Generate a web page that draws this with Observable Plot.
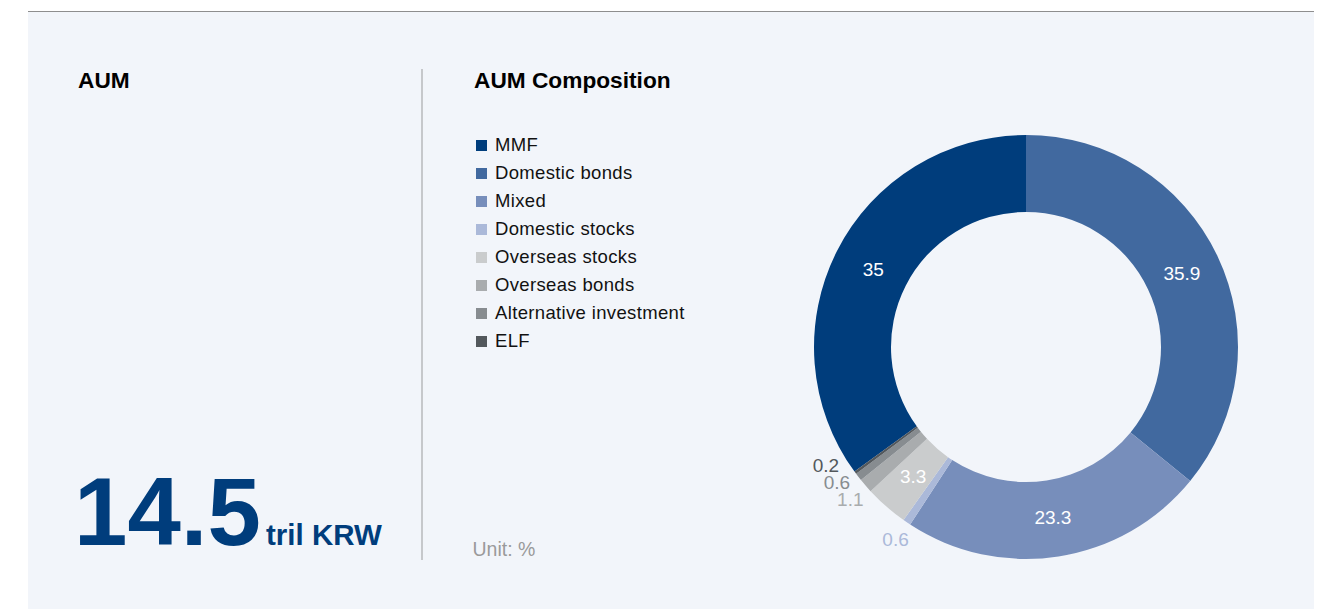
<!DOCTYPE html>
<html>
<head>
<meta charset="utf-8">
<script src="https://cdn.jsdelivr.net/npm/d3@7"></script>
<script src="https://cdn.jsdelivr.net/npm/@observablehq/plot@0.6"></script>
<style>
  html, body { margin: 0; padding: 0; background: #ffffff; }
  body { width: 1329px; height: 609px; position: relative; overflow: hidden;
         font-family: "Liberation Sans", Arial, Helvetica, sans-serif; }
  .abs { position: absolute; white-space: nowrap; }
  #panel { left: 28px; top: 11px; width: 1286px; height: 598px; background: #f2f5fa; border-top: 1px solid #8e8e8e; box-sizing: border-box; }
  #divider { left: 421px; top: 69px; width: 2px; height: 491px; background: #c6c8cb; }
  .legend-row { position: absolute; left: 476px; height: 28px; display: flex; align-items: center; line-height: 28px; font-size: 18.5px; letter-spacing: 0.35px; color: #111; }
  .legend-row .sw { width: 11px; height: 11px; margin-right: 8px; flex: none; }
  #chart { left: 776px; top: 97px; width: 500px; height: 500px; }
</style>
</head>
<body>
<div id="panel" class="abs"></div>
<div id="divider" class="abs"></div>
<div id="legend"></div>
<div id="chart" class="abs"></div>
<script>
// ---- data ----
const categories = ["MMF", "Domestic bonds", "Mixed", "Domestic stocks", "Overseas stocks", "Overseas bonds", "Alternative investment", "ELF"];
const values = [35, 35.9, 23.3, 0.6, 3.3, 1.1, 0.6, 0.2];
const colors = ["#003d7c", "#41699f", "#778ebb", "#abb9d9", "#cacccd", "#a9acae", "#878c90", "#53585c"];
const leftTitle = "AUM";
const rightTitle = "AUM Composition";
const aumValue = "14.5";
const aumUnit = "tril KRW";
const unitNote = "Unit: %";

// ---- static texts ----
function addText(txt, left, baseline, size, weight, color) {
  const d = document.createElement("div");
  d.className = "abs";
  d.textContent = txt;
  d.style.left = left + "px";
  d.style.top = (baseline - 0.8465 * size) + "px";
  d.style.fontSize = size + "px";
  d.style.lineHeight = size + "px";
  d.style.fontWeight = weight;
  d.style.color = color;
  document.body.appendChild(d);
  return d;
}
addText(leftTitle, 78, 88, 22.7, "bold", "#000");
addText(rightTitle, 474, 88, 22.7, "bold", "#000");
addText(aumValue, 74, 545, 96, "bold", "#003d7c");
addText(aumUnit, 266, 545, 29.5, "bold", "#003d7c");
addText(unitNote, 472.5, 557, 19.5, "normal", "#9a9a9a");

// ---- legend ----
const legend = document.getElementById("legend");
categories.forEach((c, i) => {
  const row = document.createElement("div");
  row.className = "legend-row";
  row.style.top = (131 + 28 * i) + "px";
  const sw = document.createElement("span");
  sw.className = "sw";
  sw.style.background = colors[i];
  const lab = document.createElement("span");
  lab.textContent = c;
  row.appendChild(sw);
  row.appendChild(lab);
  legend.appendChild(row);
});

// ---- donut ----
const total = d3.sum(values);
const start = -values[0] / total * 2 * Math.PI;
const arcs = d3.pie().sort(null).startAngle(start).endAngle(start + 2 * Math.PI)(values);
const slices = arcs.map((p, i) => ({
  category: categories[i], value: values[i],
  a0: p.startAngle, a1: p.endAngle, mid: (p.startAngle + p.endAngle) / 2
}));

const R_OUT = 212, R_IN = 135, R_LAB = 172, R_OUTLAB = 233, GAP = 17;
const inside = slices.filter(d => d.value >= 2);
let outside = slices.filter(d => d.value < 2).map(d => ({
  ...d, lx: Math.sin(d.mid) * R_OUTLAB, ly: -Math.cos(d.mid) * R_OUTLAB
}));
// simple vertical de-overlap for outer labels
outside.sort((a, b) => b.ly - a.ly);
for (let i = 1; i < outside.length; i++) {
  const prev = outside[i - 1], cur = outside[i];
  if (cur.ly > prev.ly - GAP) {
    cur.ly = prev.ly - GAP;
    const s = Math.sign(cur.lx) || -1;
    cur.lx = s * Math.sqrt(Math.max(0, R_OUTLAB * R_OUTLAB - cur.ly * cur.ly));
  }
}

// ring slices drawn by a custom mark using Plot's x/y/color scales
function ringMark(data) {
  return (index, scales, vals, dims, context) => {
    const cx = scales.x(0), cy = scales.y(0);
    const ro = Math.abs(scales.x(R_OUT) - cx), ri = Math.abs(scales.x(R_IN) - cx);
    const doc = (context && context.document) || document;
    const g = d3.select(doc.createElementNS("http://www.w3.org/2000/svg", "g"));
    const arc = d3.arc();
    data.forEach(s => {
      g.append("path")
        .attr("transform", `translate(${cx},${cy})`)
        .attr("d", arc({innerRadius: ri, outerRadius: ro, startAngle: s.a0, endAngle: s.a1}))
        .attr("fill", scales.color ? scales.color(s.category) : colors[categories.indexOf(s.category)]);
    });
    return g.node();
  };
}

const chart = Plot.plot({
  width: 500,
  height: 500,
  margin: 0,
  x: {domain: [-250, 250], axis: null},
  y: {domain: [-250, 250], reverse: true, axis: null},
  color: {domain: categories, range: colors},
  style: {background: "transparent", fontFamily: "'Liberation Sans', Arial, Helvetica, sans-serif", overflow: "visible"},
  marks: [
    ringMark(slices),
    Plot.text(inside, {
      x: d => Math.sin(d.mid) * R_LAB,
      y: d => -Math.cos(d.mid) * R_LAB,
      text: d => String(d.value),
      fill: "white",
      fontSize: 19
    }),
    Plot.text(outside, {
      x: "lx",
      y: "ly",
      text: d => String(d.value),
      fill: "category",
      fontSize: 19
    })
  ]
});
document.getElementById("chart").appendChild(chart);
</script>
</body>
</html>
